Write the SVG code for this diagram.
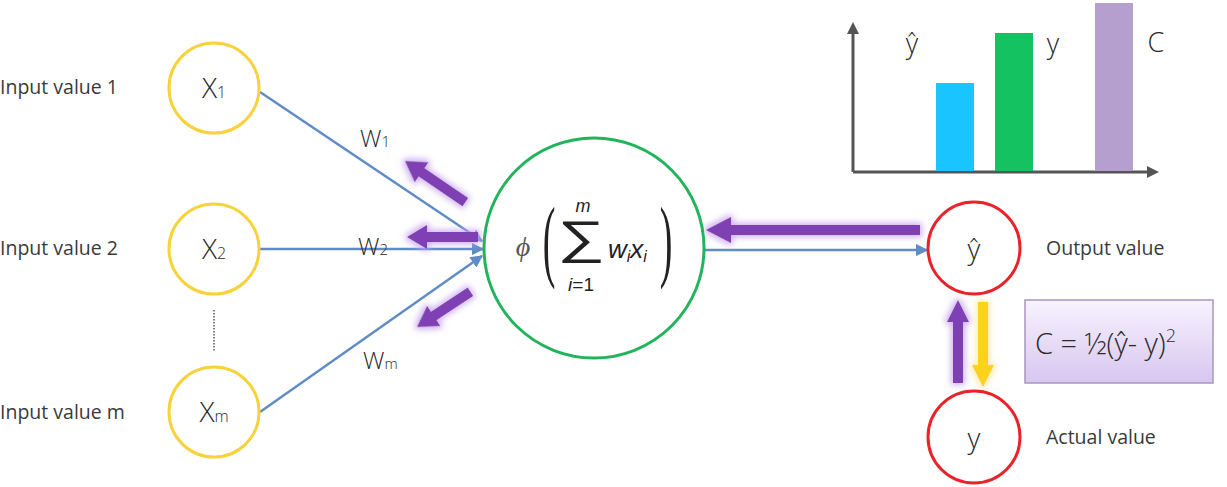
<svg xmlns="http://www.w3.org/2000/svg" width="1227" height="487" viewBox="0 0 1227 487">
<style>
.lbl{font-family:"Open Sans","Noto Sans",sans-serif;font-size:19.5px;fill:#3a3a3a}
.nd{font-family:"Open Sans","Noto Sans",sans-serif;fill:#2a2a2a;font-weight:300}
.inp{fill:#fff;stroke:#f7d23a;stroke-width:3}
.out{fill:#fff;stroke:#e8232a;stroke-width:3}
.edge{stroke:#5f8cc8;stroke-width:2.5;fill:none}
.pa{fill:#7e3fb3;filter:url(#glow)}
.ya{fill:#fdd21f;filter:url(#glowy)}
.math{font-family:"Liberation Sans","DejaVu Sans",sans-serif;fill:#222}
.axis{stroke:#555;stroke-width:3;fill:none}
</style>
<defs>
<marker id="ah" viewBox="0 0 10 10" refX="9" refY="5" markerWidth="5" markerHeight="5" orient="auto" markerUnits="strokeWidth">
<path d="M0,0 L10,5 L0,10 z" fill="#5f8cc8"/>
</marker>
<marker id="ax" viewBox="0 0 10 10" refX="5" refY="5" markerWidth="4" markerHeight="4" orient="auto" markerUnits="strokeWidth">
<path d="M0,0 L10,5 L0,10 z" fill="#555"/>
</marker>
<filter id="glow" x="-30%" y="-30%" width="160%" height="160%">
<feMorphology in="SourceAlpha" operator="dilate" radius="2" result="d"/>
<feGaussianBlur in="d" stdDeviation="3" result="b"/>
<feFlood flood-color="#c9a6ee" flood-opacity="0.9"/>
<feComposite in2="b" operator="in" result="g"/>
<feMerge><feMergeNode in="g"/><feMergeNode in="SourceGraphic"/></feMerge>
</filter>
<filter id="glowy" x="-30%" y="-30%" width="160%" height="160%">
<feMorphology in="SourceAlpha" operator="dilate" radius="2" result="d"/>
<feGaussianBlur in="d" stdDeviation="3" result="b"/>
<feFlood flood-color="#ffe9a8" flood-opacity="0.9"/>
<feComposite in2="b" operator="in" result="g"/>
<feMerge><feMergeNode in="g"/><feMergeNode in="SourceGraphic"/></feMerge>
</filter>
<linearGradient id="boxg" x1="0" y1="0" x2="0" y2="1">
<stop offset="0" stop-color="#f7f3fd"/>
<stop offset="1" stop-color="#d8c6f0"/>
</linearGradient>
</defs>

<g id="chart">
<line class="axis" x1="853" y1="172" x2="853" y2="28" marker-end="url(#ax)"/>
<line class="axis" x1="853" y1="172" x2="1153" y2="172" marker-end="url(#ax)"/>
<rect x="936" y="83" width="38" height="88" fill="#1ac4ff"/>
<rect x="995" y="33" width="38" height="138" fill="#15c262"/>
<rect x="1095" y="3" width="38" height="168" fill="#b49fcf"/>
<text class="nd" x="912" y="53" font-size="27" text-anchor="middle">ŷ</text>
<text class="nd" x="1053" y="53" font-size="27" text-anchor="middle">y</text>
<text class="nd" x="1156" y="52" font-size="27" text-anchor="middle">C</text>
</g>

<g id="connectors">
<line class="edge" x1="260" y1="92" x2="482" y2="241" marker-end="url(#ah)"/>
<line class="edge" x1="260" y1="249" x2="483" y2="249" marker-end="url(#ah)"/>
<line class="edge" x1="260" y1="412" x2="482" y2="256" marker-end="url(#ah)"/>
<line class="edge" x1="705" y1="250" x2="927" y2="250" marker-end="url(#ah)"/>
<line x1="214" y1="310" x2="214" y2="352" stroke="#555" stroke-width="1.5" stroke-dasharray="1.5,1.5"/>
<path class="pa" transform="translate(405,161) rotate(34.3)" d="M0,0 L20,-12 L20,-5 L73,-5 L73,5 L20,5 L20,12 Z"/>
<path class="pa" transform="translate(407,237)" d="M0,0 L20,-12 L20,-5 L71,-5 L71,5 L20,5 L20,12 Z"/>
<path class="pa" transform="translate(417,327) rotate(-33.4)" d="M0,0 L20,-12 L20,-5 L64,-5 L64,5 L20,5 L20,12 Z"/>
<path class="pa" transform="translate(706,230)" d="M0,0 L25,-13 L25,-5 L214,-5 L214,5 L25,5 L25,13 Z"/>
<path class="pa" transform="translate(958,300) rotate(90)" d="M0,0 L22,-11 L22,-5 L83,-5 L83,5 L22,5 L22,11 Z"/>
<path class="ya" transform="translate(983,387) rotate(-90)" d="M0,0 L22,-11 L22,-5 L85,-5 L85,5 L22,5 L22,11 Z"/>
<text class="nd" x="360" y="147" font-size="24">W<tspan font-size="15">1</tspan></text>
<text class="nd" x="358" y="255" font-size="24">W<tspan font-size="15">2</tspan></text>
<text class="nd" x="363" y="369" font-size="24">W<tspan font-size="15">m</tspan></text>
</g>

<g id="x1">
<circle class="inp" cx="214" cy="88" r="45"/>
<text class="nd" x="214" y="98" font-size="28" text-anchor="middle">X<tspan font-size="16">1</tspan></text>
</g>
<g id="x2">
<circle class="inp" cx="214" cy="249" r="45"/>
<text class="nd" x="214" y="259" font-size="28" text-anchor="middle">X<tspan font-size="16">2</tspan></text>
</g>
<g id="xm">
<circle class="inp" cx="214" cy="412" r="45"/>
<text class="nd" x="214" y="422" font-size="28" text-anchor="middle">X<tspan font-size="16">m</tspan></text>
</g>

<g id="neuron">
<circle cx="594" cy="248" r="110" fill="#fff" stroke="#22b45a" stroke-width="3"/>
<text x="523" y="256" font-family="Liberation Serif,DejaVu Serif,serif" font-size="28" font-style="italic" text-anchor="middle" fill="#555">ϕ</text>
<text font-family="Liberation Serif,serif" transform="translate(549,270) scale(1,2.4)" font-size="38" text-anchor="middle" fill="#222">(</text>
<text font-family="Liberation Serif,serif" transform="translate(666,270) scale(1,2.4)" font-size="38" text-anchor="middle" fill="#222">)</text>
<text class="math" x="583" y="212" font-size="18" font-style="italic" text-anchor="middle">m</text>
<text class="math" transform="translate(581,253) scale(1.45,1)" font-size="46" text-anchor="middle">∑</text>
<text class="math" x="581" y="291" font-size="19" text-anchor="middle"><tspan font-style="italic">i</tspan>=1</text>
<text class="math" x="608" y="258" font-size="26" font-style="italic" fill="#333">w<tspan font-size="16" dy="4">i</tspan><tspan dy="-4">x</tspan><tspan font-size="16" dy="4">i</tspan></text>
</g>

<g id="yhat">
<circle class="out" cx="974" cy="248" r="46"/>
<text class="nd" x="974" y="259" font-size="28" text-anchor="middle">ŷ</text>
</g>
<g id="y">
<circle class="out" cx="974" cy="437" r="46"/>
<text class="nd" x="974" y="448" font-size="28" text-anchor="middle">y</text>
</g>

<g id="cost">
<rect x="1025" y="300" width="188" height="83" fill="url(#boxg)" stroke="#a697be" stroke-width="1.5"/>
<text class="nd" x="1035" y="354" font-size="29">C = ½(ŷ- y)<tspan font-size="18" dy="-12">2</tspan></text>
</g>

<g id="labels">
<text class="lbl" x="0" y="94">Input value 1</text>
<text class="lbl" x="0" y="255">Input value 2</text>
<text class="lbl" x="0" y="419">Input value m</text>
<text class="lbl" x="1046" y="255">Output value</text>
<text class="lbl" x="1046" y="444">Actual value</text>
</g>
</svg>
